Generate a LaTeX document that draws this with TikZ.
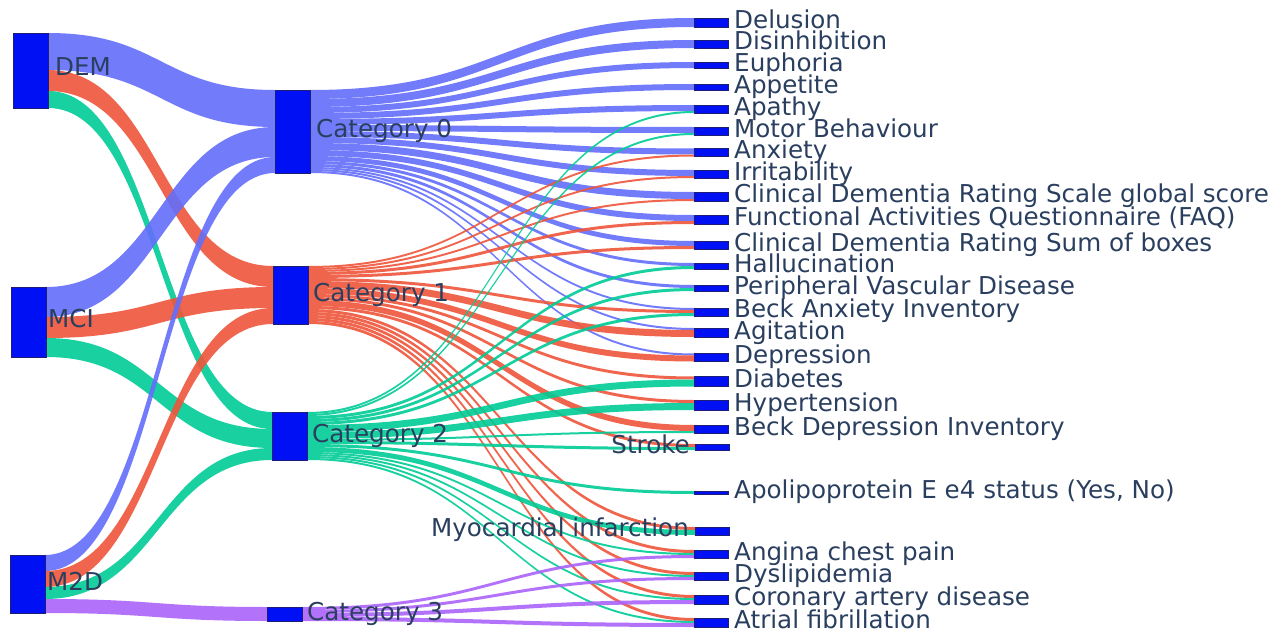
\documentclass[tikz,border=0pt]{standalone}
\usepackage{fontspec}
\setmainfont{DejaVu Sans}
\usetikzlibrary{calc}
\pgfdeclarelayer{bg}
\pgfsetlayers{bg,main}
\definecolor{lb}{HTML}{636EFA}
\definecolor{lr}{HTML}{EF553B}
\definecolor{lg}{HTML}{00CC96}
\definecolor{lp}{HTML}{AB63FA}
\definecolor{nodeblue}{RGB}{0,16,245}
\definecolor{txt}{HTML}{2A3F5F}
\tikzset{
  nd/.style={draw={rgb,255:red,30;green,30;blue,120}, line width=0.3pt, fill=nodeblue,
    inner sep=0, outer sep=0, anchor=north west, minimum width=35, minimum height=#1},
  rn/.style={nd=#1, minimum width=34},
  lbl/.style={text=txt, font=\fontsize{24.6}{24.6}\selectfont, inner sep=0, text height=17, text depth=5},
  flow/.style={fill=#1, fill opacity=0.9}
}
\newcommand\lnk[6]{%
  \path (#2.north east) ++(0,#3) coordinate (la) ++(0,#6) coordinate (lc);
  \path (#4.north west) ++(0,#5) coordinate (lb) ++(0,#6) coordinate (ld);
  \path ($(la)!0.5!(lb)$) coordinate (lm);
  \fill[flow=#1] (la) .. controls (la -| lm) and (lb -| lm) .. (lb) -- (ld)
    .. controls (ld -| lm) and (lc -| lm) .. (lc) -- cycle;}
\begin{document}
\begin{tikzpicture}[x=1pt,y=-1pt]
\useasboundingbox (0,0) rectangle (1278,634);
% left column
\node[nd=75] (dem) at (13,33) {};
\node[nd=70] (mci) at (11,287) {};
\node[nd=58] (m2d) at (10,555) {};
% middle column
\node[nd=83] (c0) at (275,90) {};
\node[nd=58] (c1) at (273,266) {};
\node[nd=48] (c2) at (272,412) {};
\node[nd=14] (c3) at (267,607) {};
% right column
\node[rn=9] (del) at (694,18) {};
\node[rn=8] (dis) at (694,40) {};
\node[rn=6] (eup) at (694,62) {};
\node[rn=6] (app) at (694,84) {};
\node[rn=8] (apa) at (694,105) {};
\node[rn=8] (mot) at (694,127) {};
\node[rn=8] (anx) at (694,148.5) {};
\node[rn=8] (irr) at (694,170) {};
\node[rn=9] (cdrg) at (694,192) {};
\node[rn=9] (faq) at (694,215) {};
\node[rn=8] (cdrs) at (694,241) {};
\node[rn=6] (hal) at (694,263) {};
\node[rn=6] (pvd) at (694,285) {};
\node[rn=8] (bai) at (694,308) {};
\node[rn=9] (agi) at (694,328) {};
\node[rn=8] (dep) at (694,353.5) {};
\node[rn=10] (dia) at (694,376.5) {};
\node[rn=10] (hyp) at (694,400) {};
\node[rn=8] (bdi) at (694,425) {};
\node[rn=6] (str) at (695,444) {};
\node[rn=3] (apo) at (694,491) {};
\node[rn=8] (myo) at (695,527) {};
\node[rn=8] (ang) at (694,550) {};
\node[rn=8] (dys) at (694,572) {};
\node[rn=9] (cad) at (694,595) {};
\node[rn=9] (atr) at (694,618) {};

\begin{pgfonlayer}{bg}
\fill[white] (0,0) rectangle (1278,634);
% stage 1
\lnk{lb}{dem}{0}{c0}{0}{37}
\lnk{lr}{dem}{37}{c1}{0}{21}
\lnk{lg}{dem}{58}{c2}{0}{17}
\lnk{lb}{mci}{0}{c0}{37}{30}
\lnk{lr}{mci}{30}{c1}{21}{21}
\lnk{lg}{mci}{51}{c2}{17}{19}
\lnk{lb}{m2d}{0}{c0}{67}{16}
\lnk{lr}{m2d}{16}{c1}{42}{16}
\lnk{lg}{m2d}{32}{c2}{36}{12}
\lnk{lp}{m2d}{44}{c3}{0}{14}
% category 0
\lnk{lb}{c0}{0}{del}{0}{9}
\lnk{lb}{c0}{9}{dis}{0}{8}
\lnk{lb}{c0}{17}{eup}{0}{6}
\lnk{lb}{c0}{23}{app}{0}{6}
\lnk{lb}{c0}{29}{apa}{0}{6}
\lnk{lb}{c0}{35}{mot}{0}{6}
\lnk{lb}{c0}{41}{anx}{0}{6}
\lnk{lb}{c0}{47}{irr}{0}{6}
\lnk{lb}{c0}{53}{cdrg}{0}{7}
\lnk{lb}{c0}{60}{faq}{0}{6}
\lnk{lb}{c0}{66}{cdrs}{0}{5}
\lnk{lb}{c0}{71}{hal}{0}{3}
\lnk{lb}{c0}{74}{pvd}{0}{3}
\lnk{lb}{c0}{77}{bai}{0}{2}
\lnk{lb}{c0}{79}{agi}{0}{2}
\lnk{lb}{c0}{81}{dep}{0}{2}
% category 1
\lnk{lr}{c1}{0}{anx}{6}{2}
\lnk{lr}{c1}{2}{irr}{6}{2}
\lnk{lr}{c1}{4}{cdrg}{7}{2}
\lnk{lr}{c1}{6}{faq}{6}{3}
\lnk{lr}{c1}{9}{cdrs}{5}{3}
\lnk{lr}{c1}{12}{bai}{2}{3}
\lnk{lr}{c1}{15}{agi}{2}{7}
\lnk{lr}{c1}{22}{dep}{2}{6}
\lnk{lr}{c1}{28}{dia}{0}{3}
\lnk{lr}{c1}{31}{hyp}{0}{3}
\lnk{lr}{c1}{34}{bdi}{0}{6}
\lnk{lr}{c1}{40}{str}{0}{3}
\lnk{lr}{c1}{43}{myo}{0}{3}
\lnk{lr}{c1}{46}{ang}{0}{3}
\lnk{lr}{c1}{49}{dys}{0}{3}
\lnk{lr}{c1}{52}{cad}{0}{3}
\lnk{lr}{c1}{55}{atr}{0}{3}
% category 2
\lnk{lg}{c2}{0}{apa}{6}{2}
\lnk{lg}{c2}{2}{mot}{6}{2}
\lnk{lg}{c2}{4}{hal}{3}{3}
\lnk{lg}{c2}{7}{pvd}{3}{3}
\lnk{lg}{c2}{10}{bai}{5}{3}
\lnk{lg}{c2}{13}{dia}{3}{7}
\lnk{lg}{c2}{20}{hyp}{3}{7}
\lnk{lg}{c2}{27}{bdi}{6}{2}
\lnk{lg}{c2}{29}{str}{3}{3}
\lnk{lg}{c2}{32}{apo}{0}{3}
\lnk{lg}{c2}{35}{myo}{3}{5}
\lnk{lg}{c2}{40}{ang}{3}{2}
\lnk{lg}{c2}{42}{dys}{3}{2}
\lnk{lg}{c2}{44}{cad}{3}{2}
\lnk{lg}{c2}{46}{atr}{3}{2}
% category 3
\lnk{lp}{c3}{0}{ang}{5}{3}
\lnk{lp}{c3}{3}{dys}{5}{3}
\lnk{lp}{c3}{6}{cad}{5}{4}
\lnk{lp}{c3}{10}{atr}{5}{4}
\end{pgfonlayer}

% labels
\node[lbl, anchor=west] (tdem) at (55,70) {DEM};
\node[lbl, anchor=west] (tmci) at (48,321) {MCI};
\node[lbl, anchor=west] (tm2d) at (47,584) {M2D};
\node[lbl, anchor=west] (tc0) at (316,131) {Category 0};
\node[lbl, anchor=west] (tc1) at (313,295) {Category 1};
\node[lbl, anchor=west] (tc2) at (312,436) {Category 2};
\node[lbl, anchor=west] (tc3) at (307,614) {Category 3};
\node[lbl, anchor=west] (tdel) at (734,22.5) {Delusion};
\node[lbl, anchor=west] (tdis) at (734,44) {Disinhibition};
\node[lbl, anchor=west] (teup) at (734,65) {Euphoria};
\node[lbl, anchor=west] (tapp) at (734,87) {Appetite};
\node[lbl, anchor=west] (tapa) at (734,109) {Apathy};
\node[lbl, anchor=west] (tmot) at (734,131) {Motor Behaviour};
\node[lbl, anchor=west] (tanx) at (734,152.5) {Anxiety};
\node[lbl, anchor=west] (tirr) at (734,174) {Irritability};
\node[lbl, anchor=west] (tcdrg) at (734,196.5) {Clinical Dementia Rating Scale global score};
\node[lbl, anchor=west] (tfaq) at (734,219.5) {Functional Activities Questionnaire (FAQ)};
\node[lbl, anchor=west] (tcdrs) at (734,245) {Clinical Dementia Rating Sum of boxes};
\node[lbl, anchor=west] (thal) at (734,266) {Hallucination};
\node[lbl, anchor=west] (tpvd) at (734,288) {Peripheral Vascular Disease};
\node[lbl, anchor=west] (tbai) at (734,311) {Beck Anxiety Inventory};
\node[lbl, anchor=west] (tagi) at (734,333) {Agitation};
\node[lbl, anchor=west] (tdep) at (734,357.5) {Depression};
\node[lbl, anchor=west] (tdia) at (734,381.5) {Diabetes};
\node[lbl, anchor=west] (thyp) at (734,405) {Hypertension};
\node[lbl, anchor=west] (tbdi) at (734,429) {Beck Depression Inventory};
\node[lbl, anchor=east] (tstr) at (690,447) {Stroke};
\node[lbl, anchor=west] (tapo) at (734,492.5) {Apolipoprotein E e4 status (Yes, No)};
\node[lbl, anchor=east] (tmyo) at (689,530) {Myocardial infarction};
\node[lbl, anchor=west] (tang) at (734,554) {Angina chest pain};
\node[lbl, anchor=west] (tdys) at (734,576) {Dyslipidemia};
\node[lbl, anchor=west] (tcad) at (734,599.5) {Coronary artery disease};
\node[lbl, anchor=west] (tatr) at (734,622.5) {Atrial fibrillation};
\end{tikzpicture}
\end{document}
